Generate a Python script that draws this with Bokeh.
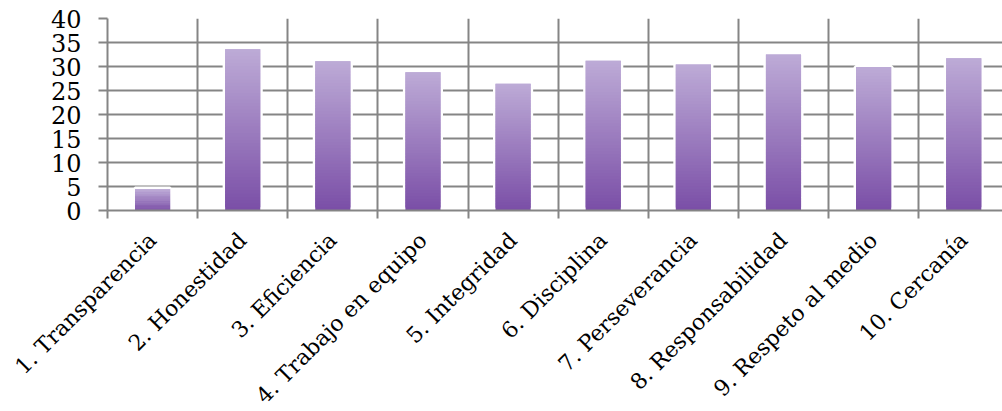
from math import pi

from bokeh.embed import file_html
from bokeh.models import FixedTicker, Range1d
from bokeh.plotting import figure
from bokeh.resources import INLINE

# Data
categories = [
    "1. Transparencia",
    "2. Honestidad",
    "3. Eficiencia",
    "4. Trabajo en equipo",
    "5. Integridad",
    "6. Disciplina",
    "7. Perseverancia",
    "8. Responsabilidad",
    "9. Respeto al medio",
    "10. Cercanía",
]
values = [4.5, 33.6, 31.1, 28.8, 26.4, 31.2, 30.4, 32.5, 29.9, 31.7]
y_ticks = [0, 5, 10, 15, 20, 25, 30, 35, 40]

GRID = "#858585"
TOP_RGB = (0xBD, 0xAB, 0xD7)
BOTTOM_RGB = (0x7A, 0x4E, 0xA6)
BAR_W = 0.39
N_SLICES = 48

centers = [i + 0.5 for i in range(len(categories))]
bounds = list(range(len(categories)))

p = figure(
    frame_width=895,
    frame_height=192,
    x_range=Range1d(0, 9.93),
    y_range=Range1d(0, 40),
    output_backend="svg",
    toolbar_location=None,
    min_border_left=107,
    min_border_right=0,
    min_border_top=18,
    min_border_bottom=10,
)
p.outline_line_color = None
p.background_fill_color = "white"
p.border_fill_color = "white"

# grids
p.xgrid.ticker = FixedTicker(ticks=bounds)
p.xgrid.grid_line_color = GRID
p.xgrid.grid_line_width = 2
p.ygrid.ticker = FixedTicker(ticks=y_ticks)
p.ygrid.grid_line_color = GRID
p.ygrid.grid_line_width = 2
p.grid.level = "underlay"

# white halo under each bar
p.quad(
    left=[c - BAR_W / 2 for c in centers],
    right=[c + BAR_W / 2 for c in centers],
    bottom=[0] * len(values),
    top=values,
    fill_color="white",
    line_color="white",
    line_width=5,
)

# vertical gradient, light at the top of each bar and dark at its base;
# slices overlap slightly so no seams show between them
left, right, bottom, top, colors = [], [], [], [], []
for c, v in zip(centers, values):
    for j in range(N_SLICES):
        t = (j + 0.5) / N_SLICES
        rgb = tuple(round(b + (a - b) * t) for a, b in zip(TOP_RGB, BOTTOM_RGB))
        left.append(c - BAR_W / 2)
        right.append(c + BAR_W / 2)
        bottom.append(v * j / N_SLICES)
        top.append(min(v, v * (j + 2) / N_SLICES))
        colors.append("#%02x%02x%02x" % rgb)
p.quad(left=left, right=right, bottom=bottom, top=top,
       fill_color=colors, line_color=None)

# x axis: labels at category centres, stubs at category boundaries
xa = p.xaxis[0]
xa.ticker = FixedTicker(ticks=centers, minor_ticks=bounds)
xa.major_label_overrides = {c: name for c, name in zip(centers, categories)}
xa.major_label_orientation = pi / 4
xa.major_label_text_font = "DejaVu Serif"
xa.major_label_text_font_size = "22px"
xa.major_label_text_color = "black"
xa.major_label_standoff = 18
xa.major_tick_line_color = None
xa.minor_tick_line_color = GRID
xa.minor_tick_line_width = 2
xa.minor_tick_in = 0
xa.minor_tick_out = 8
xa.axis_line_color = GRID
xa.axis_line_width = 2

# y axis
ya = p.yaxis[0]
ya.ticker = FixedTicker(ticks=y_ticks)
ya.major_label_text_font = "DejaVu Serif"
ya.major_label_text_font_size = "24px"
ya.major_label_text_color = "black"
ya.major_label_standoff = 17
ya.major_tick_line_color = GRID
ya.major_tick_line_width = 2
ya.major_tick_in = 0
ya.major_tick_out = 9
ya.minor_tick_line_color = None
ya.axis_line_color = GRID
ya.axis_line_width = 2

open("out.html", "w").write(file_html(p, INLINE))
